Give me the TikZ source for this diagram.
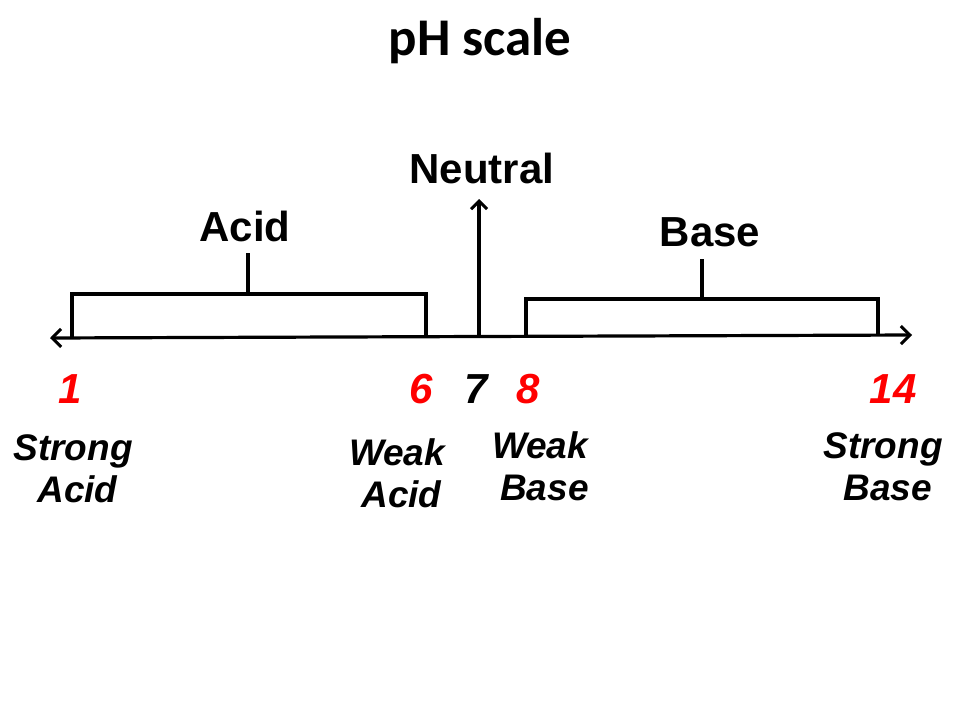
\documentclass[tikz,border=0pt]{standalone}
\usepackage{fontspec}
\setmainfont{Liberation Sans}
\newfontfamily\titlefont{Carlito}
\usetikzlibrary{arrows.meta}
\definecolor{phred}{RGB}{255,0,0}

\tikzset{
  scaleline/.style={line width=3.2pt},
  bothtips/.style={{Straight Barb[length=9pt,width=18pt,line width=3pt]}-{Straight Barb[length=9pt,width=18pt,line width=3pt]}},
  uptip/.style={-{Straight Barb[length=8pt,width=16pt,line width=3pt]}},
  phnum/.style={font=\fontsize{42}{46}\selectfont\bfseries\itshape, text=phred, anchor=base},
  phtext/.style={font=\fontsize{37}{42}\selectfont\bfseries\itshape, align=center, anchor=base},
  grouplabel/.style={font=\fontsize{42}{46}\selectfont\bfseries, anchor=base}
}

\begin{document}
\begin{tikzpicture}[x=1pt,y=-1pt]
\useasboundingbox[fill=white] (0,0) rectangle (960,720);
\node[anchor=base,font=\titlefont\fontsize{53}{56}\selectfont\bfseries] (title) at (480,55) {pH scale};
% the scale line
\coordinate (lowend) at (50,338);
\coordinate (highend) at (912,335);
\draw[scaleline,bothtips] (lowend) -- (highend);
% neutral arrow
\coordinate (neutralfoot) at (479,336);
\coordinate (neutraltip) at (479,199);
\draw[scaleline,uptip] (neutralfoot) -- (neutraltip);
\node[grouplabel] (neutral) at (482,183) {Neutral};
% acid bracket
\draw[scaleline] (72,337) |- (426,294) -- (426,336);
\draw[scaleline] (248,294) -- (248,253);
\node[grouplabel] (acid) at (245,241) {Acid};
% base bracket
\draw[scaleline] (526,336) |- (878,299) -- (878,335);
\draw[scaleline] (702,299) -- (702,259);
\node[grouplabel] (base) at (710,246) {Base};
% numbers
\node[phnum] (one) at (70,403) {1};
\node[phnum] (six) at (421,403) {6};
\node[phnum,text=black] (seven) at (476,403) {7};
\node[phnum] (eight) at (528,403) {8};
\node[phnum] (fourteen) at (893,403) {14};
% names
\node[phtext] (strongacid) at (73,502) {Strong\\\hspace*{9pt}Acid};
\node[phtext] (weakacid) at (397,507) {Weak\\\hspace*{9pt}Acid};
\node[phtext] (weakbase) at (540,500) {Weak\\\hspace*{9pt}Base};
\node[phtext] (strongbase) at (883,500) {Strong\\\hspace*{9pt}Base};
\end{tikzpicture}
\end{document}
